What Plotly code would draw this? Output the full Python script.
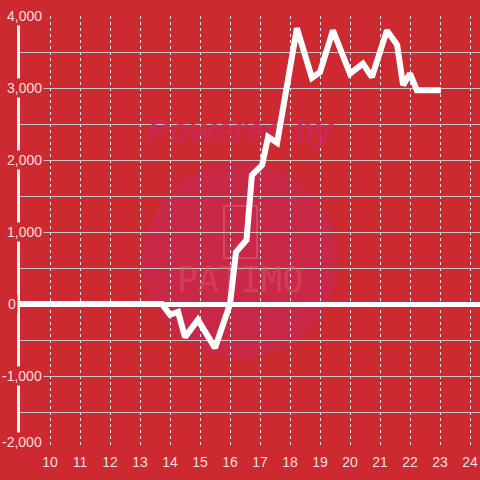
import plotly.graph_objects as go

# data
hours = [9.0, 13.73, 14.0, 14.27, 14.5, 14.93, 15.5, 16.0, 16.2, 16.55, 16.73, 17.07, 17.27, 17.57,
         18.23, 18.73, 19.0, 19.43, 20.0, 20.43, 20.73, 21.23, 21.57, 21.77, 22.0, 22.23, 23.03]
values = [0, 0, -150, -110, -460, -220, -610, 0, 720, 890, 1790, 1930, 2320, 2240,
          3830, 3140, 3220, 3800, 3200, 3340, 3150, 3800, 3600, 3040, 3200, 2970, 2970]
x_ticks = list(range(10, 25))
y_label_vals = [4000, 3000, 2000, 1000, 0, -1000, -2000]
y_label_text = ["4,000", "3,000", "2,000", "1,000", "0", "-1,000", "-2,000"]

X_RANGE = [9, 24.333]
Y_RANGE = [-2000, 4000]

BG = "#cc2a30"
TXT = "rgba(255,240,240,0.92)"


def px_to_data(px, py):
    # decorative watermark placement: convert pixel position to axis coordinates
    fx = (px - 20) / 460
    fy = (448 - py) / 432
    return (X_RANGE[0] + fx * (X_RANGE[1] - X_RANGE[0]),
            Y_RANGE[0] + fy * (Y_RANGE[1] - Y_RANGE[0]))


fig = go.Figure()

# watermark texts (drawn beneath the data line)
wx1, wy1 = px_to_data(240, 134)
wx2, wy2 = px_to_data(240, 283)
fig.add_trace(go.Scatter(x=[wx1], y=[wy1], mode="text", text=["<b><i>Powered by</i></b>"],
                         textfont=dict(family="Liberation Sans, Arial", size=33,
                                       color="rgba(205,40,90,0.9)"),
                         hoverinfo="skip", cliponaxis=False))
fig.add_trace(go.Scatter(x=[wx2], y=[wy2], mode="text", text=["PATIMO"],
                         textfont=dict(family="DejaVu Sans Mono", size=35,
                                       color="rgba(225,90,115,0.45)"),
                         hoverinfo="skip", cliponaxis=False))

fig.add_trace(go.Scatter(x=hours, y=values, mode="lines",
                         line=dict(color="white", width=6), hoverinfo="skip"))

annotations = []
for v, t in zip(y_label_vals, y_label_text):
    if v == 0:
        pos = dict(x=12 / 460 - 20 / 460, xanchor="center")
    else:
        pos = dict(x=0.052, xanchor="right")
    annotations.append(dict(
        xref="paper", y=v, yref="y", text=t, showarrow=False,
        yanchor="middle", bgcolor=BG, borderpad=1,
        yshift=6 if v == -2000 else 0,
        font=dict(family="Liberation Sans, Arial, sans-serif", size=14, color=TXT), **pos))

shapes = [
    dict(type="circle", xref="paper", yref="paper", layer="below",
         x0=0.478 - 0.213, x1=0.478 + 0.213, y0=0.435 - 0.227, y1=0.435 + 0.227,
         fillcolor="#c92846", line=dict(width=0)),
    dict(type="rect", xref="paper", yref="paper", layer="below",
         x0=(224 - 20) / 460, x1=(257 - 20) / 460, y0=(448 - 258) / 432, y1=(448 - 206) / 432,
         fillcolor="rgba(0,0,0,0)", line=dict(color="rgba(225,90,115,0.6)", width=2)),
]

fig.update_layout(
    width=480, height=480,
    margin=dict(l=20, r=0, t=16, b=32),
    paper_bgcolor=BG, plot_bgcolor=BG,
    showlegend=False,
    annotations=annotations,
    shapes=shapes,
    xaxis=dict(range=X_RANGE, tickvals=x_ticks, ticktext=[str(t) for t in x_ticks],
               showgrid=True, gridcolor="rgba(255,255,255,0.85)", gridwidth=1, griddash="3px,3px",
               zeroline=False, showline=False, ticks="", ticklabelstandoff=4, automargin=False,
               tickfont=dict(family="Liberation Sans, Arial, sans-serif", size=14, color=TXT)),
    yaxis=dict(range=Y_RANGE, dtick=500, tick0=0, showticklabels=False, automargin=False,
               showgrid=True, gridcolor="#c8c8c8", gridwidth=1,
               zeroline=True, zerolinecolor="white", zerolinewidth=5,
               showline=True, linecolor="#f2f2f2", linewidth=3, ticks=""),
)

fig.write_html("out.html", config={"displayModeBar": False},
               post_script="document.body.style.margin='0';document.body.style.overflow='hidden';")
